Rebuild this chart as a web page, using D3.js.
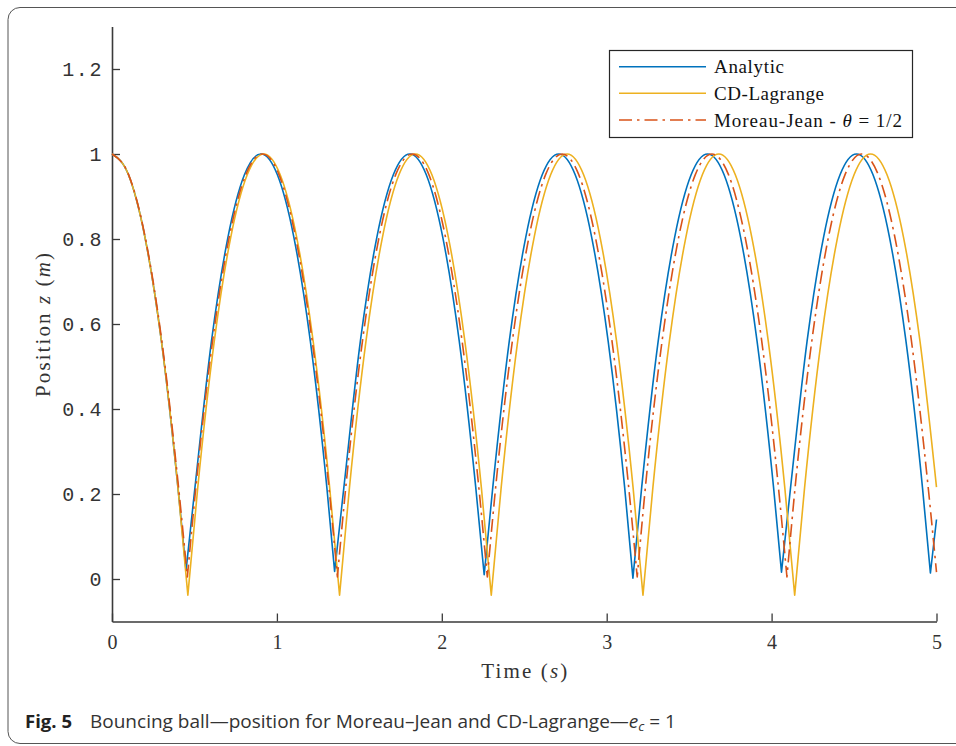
<!DOCTYPE html>
<html>
<head>
<meta charset="utf-8">
<script src="https://cdn.jsdelivr.net/npm/d3@7"></script>
<style>
  html, body { margin: 0; padding: 0; background: #fff; }
  svg { display: block; }
</style>
</head>
<body>
<svg id="chart" width="956" height="746"></svg>
<script>
// ---------------- data ----------------
const xTicks = [0, 1, 2, 3, 4, 5];
const xTickLabels = ["0", "1", "2", "3", "4", "5"];
const yTicks = [0, 0.2, 0.4, 0.6, 0.8, 1, 1.2];
const yTickLabels = ["0", "0.2", "0.4", "0.6", "0.8", "1", "1.2"];

const seriesNames = ["Analytic", "CD-Lagrange", "Moreau-Jean - θ = 1/2"];

// Analytic
const analyticTime = [
  0, 0.1, 0.2, 0.3, 0.4, 0.449,
  0.503, 0.603, 0.703, 0.803, 0.903, 1.003, 1.103, 1.203, 1.303, 1.350,
  1.406, 1.506, 1.606, 1.706, 1.806, 1.906, 2.006, 2.106, 2.206, 2.257,
  2.309, 2.409, 2.509, 2.609, 2.709, 2.809, 2.909, 3.009, 3.109, 3.159,
  3.212, 3.312, 3.412, 3.512, 3.612, 3.712, 3.812, 3.912, 4.012, 4.060,
  4.115, 4.215, 4.315, 4.415, 4.515, 4.615, 4.715, 4.815, 4.915, 4.963,
  5.0
];
const analyticZ = [
  1, 0.951, 0.804, 0.559, 0.215, 0.020,
  0.215, 0.559, 0.804, 0.951, 1, 0.951, 0.804, 0.559, 0.215, 0.018,
  0.215, 0.559, 0.804, 0.951, 1, 0.951, 0.804, 0.559, 0.215, 0.010,
  0.215, 0.559, 0.804, 0.951, 1, 0.951, 0.804, 0.559, 0.215, 0.002,
  0.215, 0.559, 0.804, 0.951, 1, 0.951, 0.804, 0.559, 0.215, 0.016,
  0.215, 0.559, 0.804, 0.951, 1, 0.951, 0.804, 0.559, 0.215, 0.014,
  0.140
];

// CD-Lagrange
const cdTime = [
  0, 0.1, 0.2, 0.3, 0.4, 0.46,
  0.52, 0.62, 0.72, 0.82, 0.92, 1.02, 1.12, 1.22, 1.32, 1.38,
  1.44, 1.54, 1.64, 1.74, 1.84, 1.94, 2.04, 2.14, 2.24, 2.30,
  2.36, 2.46, 2.56, 2.66, 2.76, 2.86, 2.96, 3.06, 3.16, 3.22,
  3.28, 3.38, 3.48, 3.58, 3.68, 3.78, 3.88, 3.98, 4.08, 4.14,
  4.20, 4.30, 4.40, 4.50, 4.60, 4.70, 4.80, 4.90, 5.00
];
const cdZ = [
  1, 0.951, 0.804, 0.559, 0.215, -0.038,
  0.215, 0.559, 0.804, 0.951, 1, 0.951, 0.804, 0.559, 0.215, -0.038,
  0.215, 0.559, 0.804, 0.951, 1, 0.951, 0.804, 0.559, 0.215, -0.038,
  0.215, 0.559, 0.804, 0.951, 1, 0.951, 0.804, 0.559, 0.215, -0.038,
  0.215, 0.559, 0.804, 0.951, 1, 0.951, 0.804, 0.559, 0.215, -0.038,
  0.215, 0.559, 0.804, 0.951, 1, 0.951, 0.804, 0.559, 0.216
];

// Moreau-Jean, theta = 1/2
const mjTime = [
  0, 0.1, 0.2, 0.3, 0.4, 0.457,
  0.512, 0.612, 0.712, 0.812, 0.912, 1.012, 1.112, 1.212, 1.312, 1.367,
  1.421, 1.521, 1.621, 1.721, 1.821, 1.921, 2.021, 2.121, 2.221, 2.276,
  2.330, 2.430, 2.530, 2.630, 2.730, 2.830, 2.930, 3.030, 3.130, 3.185,
  3.238, 3.338, 3.438, 3.538, 3.638, 3.738, 3.838, 3.938, 4.038, 4.093,
  4.146, 4.246, 4.346, 4.446, 4.546, 4.646, 4.746, 4.846, 4.946, 5.0
];
const mjZ = [
  1, 0.952, 0.807, 0.566, 0.229, 0.005,
  0.229, 0.566, 0.807, 0.952, 1, 0.952, 0.807, 0.566, 0.229, 0.005,
  0.229, 0.566, 0.807, 0.952, 1, 0.952, 0.807, 0.566, 0.229, 0.005,
  0.229, 0.566, 0.807, 0.952, 1, 0.952, 0.807, 0.566, 0.229, 0.005,
  0.229, 0.566, 0.807, 0.952, 1, 0.952, 0.807, 0.566, 0.229, 0.005,
  0.229, 0.566, 0.807, 0.952, 1, 0.952, 0.807, 0.566, 0.229, 0.016
];

// ---------------- drawing ----------------
const svg = d3.select("#chart");
const serif = "'Liberation Serif', 'Times New Roman', serif";
const mono = "'Liberation Mono', 'Courier New', monospace";
const axisColor = "#3a3a3a";

// figure frame (rounded box)
svg.append("rect")
  .attr("x", 8).attr("y", 7.5)
  .attr("width", 990).attr("height", 736)
  .attr("rx", 12).attr("ry", 12)
  .attr("fill", "none").attr("stroke", "#555").attr("stroke-width", 1);

const x = d3.scaleLinear().domain([0, 5]).range([112, 936.5]);
const y = d3.scaleLinear().domain([-0.1, 1.3]).range([621.5, 26.5]);

// y axis
const yAxis = d3.axisLeft(y)
  .tickValues(yTicks)
  .tickFormat((d, i) => yTickLabels[i])
  .tickSizeInner(-8).tickSizeOuter(0).tickPadding(9);
const gy = svg.append("g").attr("transform", `translate(${x(0)},0)`).call(yAxis);
gy.select(".domain").attr("stroke", axisColor).attr("stroke-width", 1.6);
gy.selectAll(".tick line").attr("stroke", axisColor).attr("stroke-width", 1.3);
gy.selectAll(".tick text")
  .attr("fill", "#333")
  .style("font-family", mono).style("font-size", "20px")
  .style("letter-spacing", "1.6px");

// x axis
const xAxis = d3.axisBottom(x)
  .tickValues(xTicks)
  .tickFormat((d, i) => xTickLabels[i])
  .tickSizeInner(-8).tickSizeOuter(0).tickPadding(13);
const gx = svg.append("g").attr("transform", `translate(0,${y(-0.1)})`).call(xAxis);
gx.select(".domain").attr("stroke", axisColor).attr("stroke-width", 1.6);
gx.selectAll(".tick line").attr("stroke", axisColor).attr("stroke-width", 1.3);
gx.selectAll(".tick text")
  .attr("fill", "#333")
  .style("font-family", serif).style("font-size", "20px");

// axis titles
const xt = svg.append("text")
  .attr("x", (x(0) + x(5)) / 2).attr("y", 678)
  .attr("text-anchor", "middle")
  .style("font-family", serif).style("font-size", "21px").attr("fill", "#333");
xt.append("tspan").text("Time (");
xt.append("tspan").style("font-style", "italic").text("s");
xt.append("tspan").text(")");
xt.attr("textLength", 86).attr("lengthAdjust", "spacing");

const yt = svg.append("text")
  .attr("transform", `translate(50,${(y(-0.1) + y(1.3)) / 2 + 1}) rotate(-90)`)
  .attr("text-anchor", "middle")
  .style("font-family", serif).style("font-size", "21px").attr("fill", "#333");
yt.append("tspan").text("Position ");
yt.append("tspan").style("font-style", "italic").text("z");
yt.append("tspan").text(" (");
yt.append("tspan").style("font-style", "italic").text("m");
yt.append("tspan").text(")");
yt.attr("textLength", 144).attr("lengthAdjust", "spacing");

// series lines: each bounce arc is drawn as its own smooth piece, joined in one path
function arcPath(ts, zs) {
  const pts = ts.map((t, i) => [t, zs[i]]);
  const cuts = [0];
  for (let i = 1; i < pts.length - 1; i++) {
    if (pts[i][1] < pts[i - 1][1] && pts[i][1] < pts[i + 1][1]) cuts.push(i);
  }
  cuts.push(pts.length - 1);
  const line = d3.line().x(d => x(d[0])).y(d => y(d[1])).curve(d3.curveMonotoneX);
  let d = "";
  for (let k = 0; k < cuts.length - 1; k++) {
    let s = line(pts.slice(cuts[k], cuts[k + 1] + 1));
    if (k > 0) s = "L" + s.slice(1);
    d += s;
  }
  return d;
}

const series = [
  { name: seriesNames[0], t: analyticTime, z: analyticZ, color: "#0072BD", dash: null },
  { name: seriesNames[1], t: cdTime, z: cdZ, color: "#EDB120", dash: null },
  { name: seriesNames[2], t: mjTime, z: mjZ, color: "#D95319", dash: "13,5,2.5,5" }
];

const gLines = svg.append("g");
series.forEach(s => {
  gLines.append("path")
    .attr("d", arcPath(s.t, s.z))
    .attr("fill", "none")
    .attr("stroke", s.color)
    .attr("stroke-width", 1.6)
    .attr("stroke-linejoin", "round")
    .attr("stroke-dasharray", s.dash);
});

// legend
const lg = svg.append("g");
lg.append("rect")
  .attr("x", 609.5).attr("y", 50.5).attr("width", 303).attr("height", 87)
  .attr("fill", "#fff").attr("stroke", "#262626").attr("stroke-width", 1.2);
const rowY = [66.7, 93.3, 120];
const legendLen = [70, 110, 188];
series.forEach((s, i) => {
  lg.append("line")
    .attr("x1", 619).attr("x2", 706)
    .attr("y1", rowY[i]).attr("y2", rowY[i])
    .attr("stroke", s.color).attr("stroke-width", 1.6)
    .attr("stroke-dasharray", s.dash);
  const t = lg.append("text")
    .attr("x", 714).attr("y", rowY[i] + 6.5)
    .style("font-family", serif).style("font-size", "19px").attr("fill", "#111");
  if (i < 2) {
    t.text(s.name);
  } else {
    t.append("tspan").text("Moreau-Jean - ");
    t.append("tspan").style("font-style", "italic").text("θ");
    t.append("tspan").text(" = 1/2");
  }
  t.attr("textLength", legendLen[i]).attr("lengthAdjust", "spacing");
});

// caption
const sans = "'Liberation Sans Narrow', 'Open Sans', 'Noto Sans', sans-serif";
svg.append("text")
  .attr("x", 25).attr("y", 728)
  .style("font-family", "'Open Sans', 'Noto Sans', sans-serif")
  .style("font-size", "17px").style("font-weight", "bold")
  .attr("fill", "#222")
  .text("Fig. 5")
  .attr("textLength", 47).attr("lengthAdjust", "spacingAndGlyphs");
const cap = svg.append("text")
  .attr("x", 90).attr("y", 728)
  .style("font-family", sans).style("font-size", "16px")
  .attr("fill", "#333");
cap.append("tspan").text("Bouncing ball—position for Moreau–Jean and CD-Lagrange—");
cap.append("tspan").style("font-style", "italic").text("e");
cap.append("tspan").style("font-style", "italic").style("font-size", "11px").attr("dy", 3).text("c");
cap.append("tspan").attr("dy", -3).text(" = 1");
// fit caption width to the reference
const w = cap.node().getComputedTextLength();
const fs = Math.min(18, 16 * 586 / w);
cap.style("font-size", fs + "px");
cap.selectAll("tspan").filter((d, i) => i === 2).style("font-size", (fs * 0.7) + "px");
cap.attr("textLength", 586).attr("lengthAdjust", "spacingAndGlyphs");
</script>
</body>
</html>
